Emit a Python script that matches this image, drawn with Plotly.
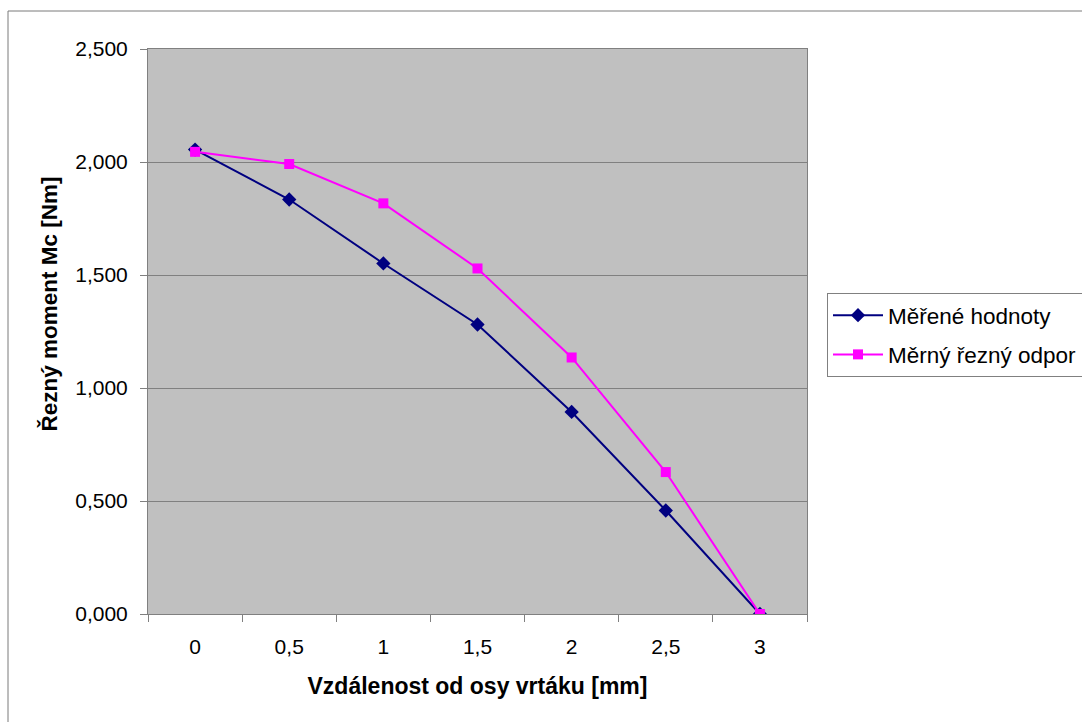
import plotly.graph_objects as go

categories = ["0", "0,5", "1", "1,5", "2", "2,5", "3"]
mereno = [2.055, 1.834, 1.551, 1.281, 0.894, 0.458, 0.0]
merny = [2.045, 1.991, 1.817, 1.529, 1.135, 0.628, 0.0]
y_ticks = [0, 0.5, 1.0, 1.5, 2.0, 2.5]

W, H = 1082, 722
L, R, T, B = 148, 807, 49, 614

fig = go.Figure()
fig.add_trace(go.Scatter(
    x=categories, y=mereno, mode="lines+markers", name="Měřené hodnoty",
    line=dict(color="#000080", width=2),
    marker=dict(symbol="diamond", size=11, color="#000080"),
    legendgroup="a",
))
fig.add_trace(go.Scatter(
    x=categories, y=merny, mode="lines+markers", name="Měrný řezný odpor",
    line=dict(color="#ff00ff", width=2),
    marker=dict(symbol="square", size=10, color="#ff00ff"),
    legendgroup="b",
))

def px_x(p):
    return (p - L) / (R - L)

def px_y(p):
    return (B - p) / (B - T)

fig.add_shape(type="rect", xref="paper", yref="paper",
              x0=px_x(8), x1=px_x(1100), y0=px_y(740), y1=px_y(11),
              line=dict(color="#7a7a7a", width=1), fillcolor="rgba(0,0,0,0)",
              layer="below")

fig.add_annotation(
    text="<b>Řezný moment Mc [Nm]</b>", textangle=-90,
    xref="paper", yref="paper", x=px_x(48.5), y=px_y(304),
    xanchor="center", yanchor="middle", showarrow=False,
    font=dict(size=22.5),
)

fig.update_layout(
    width=W, height=H,
    margin=dict(l=L, r=W - R, t=T, b=H - B, autoexpand=False),
    paper_bgcolor="white",
    plot_bgcolor="#c0c0c0",
    separators=",.",
    font=dict(family="Liberation Sans, Arial, sans-serif", size=21, color="black"),
    showlegend=True,
    legend=dict(
        xref="container", yref="container",
        x=827 / W, y=(H - 293) / H, xanchor="left", yanchor="top",
        bgcolor="white", bordercolor="#808080", borderwidth=1,
        font=dict(size=22.5), tracegroupgap=7, itemwidth=50,
    ),
    xaxis=dict(
        type="category", range=[-0.5, 6.5],
        showgrid=False, zeroline=False,
        showline=True, linecolor="#808080", linewidth=1, mirror=True,
        ticks="outside", tickson="boundaries", ticklen=7, tickcolor="#808080",
        ticklabelstandoff=14,
        title=dict(text="<b>Vzdálenost od osy vrtáku [mm]</b>", standoff=20,
                   font=dict(size=23)),
    ),
    yaxis=dict(
        range=[0, 2.5], tickvals=y_ticks, tickformat=".3f",
        showgrid=True, gridcolor="#808080", gridwidth=1, zeroline=False,
        showline=True, linecolor="#808080", linewidth=1, mirror=True,
        ticks="outside", ticklen=7, tickcolor="#808080",
        ticklabelstandoff=8,
    ),
)

fig.write_html("out.html", config={"displayModeBar": False},
               post_script="document.body.style.margin='0';document.body.style.overflow='hidden';")
